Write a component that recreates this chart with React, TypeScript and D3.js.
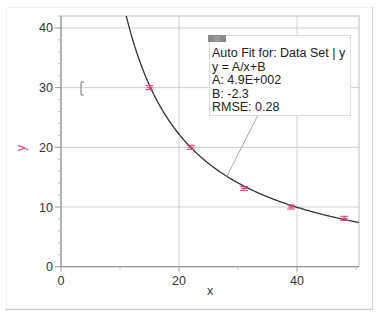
import React from "react";
import * as d3 from "d3";

const xValues = [15, 22, 31, 39, 48];
const yValues = [30, 20, 13.1, 10, 8.1];
const fitA = 490;
const fitB = -2.3;
const xMajorTicks = [0, 20, 40];
const xMinorTicks = [10, 30, 50];
const yMajorTicks = [0, 10, 20, 30, 40];
const yMinorTicks = [2, 4, 6, 8, 12, 14, 16, 18, 22, 24, 26, 28, 32, 34, 36, 38, 42];
const fitLines = ["Auto Fit for: Data Set | y", "y = A/x+B", "A: 4.9E+002", "B: -2.3", "RMSE: 0.28"];

const W = 379, H = 315;
const left = 61, right = 359, top = 16, bottom = 266.7;
const font = "'Liberation Sans', Arial, sans-serif";
const pink = "#e23c7f";

export default function App() {
  const x = d3.scaleLinear().domain([0, 50.5]).range([left, right]);
  const y = d3.scaleLinear().domain([0, 42]).range([bottom, top]);
  const xStart = fitA / (42 - fitB);
  const curvePts = d3.range(0, 301).map(i => {
    const xv = xStart + (50.5 - xStart) * i / 300;
    return [xv, fitA / xv + fitB] as [number, number];
  });
  const line = d3.line<[number, number]>().x(d => x(d[0])).y(d => y(d[1]));
  const leaderX = 28.1;
  return (
    <svg width={W} height={H} style={{ position: "absolute", left: 0, top: 0 }}>
      <rect x={0} y={0} width={W} height={H} fill="#fff" />
      <rect x={6.5} y={7.5} width={366} height={301.5} fill="none" stroke="#f0f0f0" />
      <line x1={372.5} y1={7} x2={372.5} y2={309.5} stroke="#d0d0d0" />
      <line x1={5} y1={309.5} x2={373} y2={309.5} stroke="#c8c8c8" />
      {/* gridlines */}
      {xMajorTicks.filter(t => t > 0).map(t => (
        <line key={"gx" + t} x1={x(t)} x2={x(t)} y1={top} y2={bottom} stroke="#cfcfcf" />
      ))}
      {yMajorTicks.filter(t => t > 0).map(t => (
        <line key={"gy" + t} x1={left} x2={right} y1={y(t)} y2={y(t)} stroke="#cfcfcf" />
      ))}
      <rect x={left} y={top} width={right - left} height={bottom - top} fill="none" stroke="#bdbdbd" />
      <line x1={left} x2={right} y1={bottom} y2={bottom} stroke="#888" />
      <line x1={left} x2={left} y1={top} y2={bottom} stroke="#888" />
      {/* ticks */}
      {yMajorTicks.map(t => (
        <line key={"ty" + t} x1={left - 6} x2={left} y1={y(t)} y2={y(t)} stroke="#999" />
      ))}
      {yMinorTicks.map(t => (
        <line key={"tmy" + t} x1={left - 3} x2={left} y1={y(t)} y2={y(t)} stroke="#bbb" />
      ))}
      {xMajorTicks.map(t => (
        <line key={"tx" + t} x1={x(t)} x2={x(t)} y1={bottom} y2={bottom + 5} stroke="#999" />
      ))}
      {xMinorTicks.map(t => (
        <line key={"tmx" + t} x1={x(t)} x2={x(t)} y1={bottom} y2={bottom + 3} stroke="#bbb" />
      ))}
      {yMajorTicks.map(t => (
        <text key={"ly" + t} x={left - 8} y={y(t) + 4.5} textAnchor="end" fontFamily={font} fontSize={12.5} fill="#333">{t}</text>
      ))}
      {xMajorTicks.map(t => (
        <text key={"lx" + t} x={x(t)} y={285} textAnchor="middle" fontFamily={font} fontSize={12.5} fill="#333">{t}</text>
      ))}
      <text x={210} y={295} textAnchor="middle" fontFamily={font} fontSize={12.5} fill="#333">x</text>
      <text transform="translate(25,148) rotate(-90)" textAnchor="middle" fontFamily={font} fontSize={12.5} fill={pink}>y</text>
      {/* bracket */}
      <path d="M84,82 L81,82 L81,95 L84,95" fill="none" stroke="#777" strokeWidth={1} />
      {/* fit curve */}
      <path d={line(curvePts) || ""} fill="none" stroke="#333" strokeWidth={1.3} />
      {/* points */}
      {xValues.map((xv, i) => {
        const cx = x(xv), cy = y(yValues[i]);
        return (
          <g key={"p" + i} stroke={pink} strokeWidth={1.2} opacity={0.9}>
            <line x1={cx - 4} x2={cx + 4} y1={cy - 2} y2={cy - 2} />
            <line x1={cx - 4} x2={cx + 4} y1={cy + 2} y2={cy + 2} />
            <line x1={cx} x2={cx} y1={cy - 2} y2={cy + 2} />
            <line x1={cx - 3} x2={cx + 3} y1={cy} y2={cy} />
          </g>
        );
      })}
      {/* leader line */}
      <line x1={258} y1={115} x2={x(leaderX)} y2={y(fitA / leaderX + fitB)} stroke="#aaa" strokeWidth={1} />
      {/* annotation box */}
      <rect x={209.5} y={35.5} width={141} height={80} fill="#fff" stroke="#ddd" />
      <rect x={208} y={35} width={18} height={7} fill="#8a8a8a" />
      <line x1={214} x2={220} y1={37} y2={37} stroke="#bbb" strokeWidth={0.8} />
      <line x1={214} x2={220} y1={40} y2={40} stroke="#bbb" strokeWidth={0.8} />
      {fitLines.map((s, i) => (
        <text key={"f" + i} x={212} y={57 + i * 13.5} fontFamily={font} fontSize={12.5} fill="#222">{s}</text>
      ))}
    </svg>
  );
}
